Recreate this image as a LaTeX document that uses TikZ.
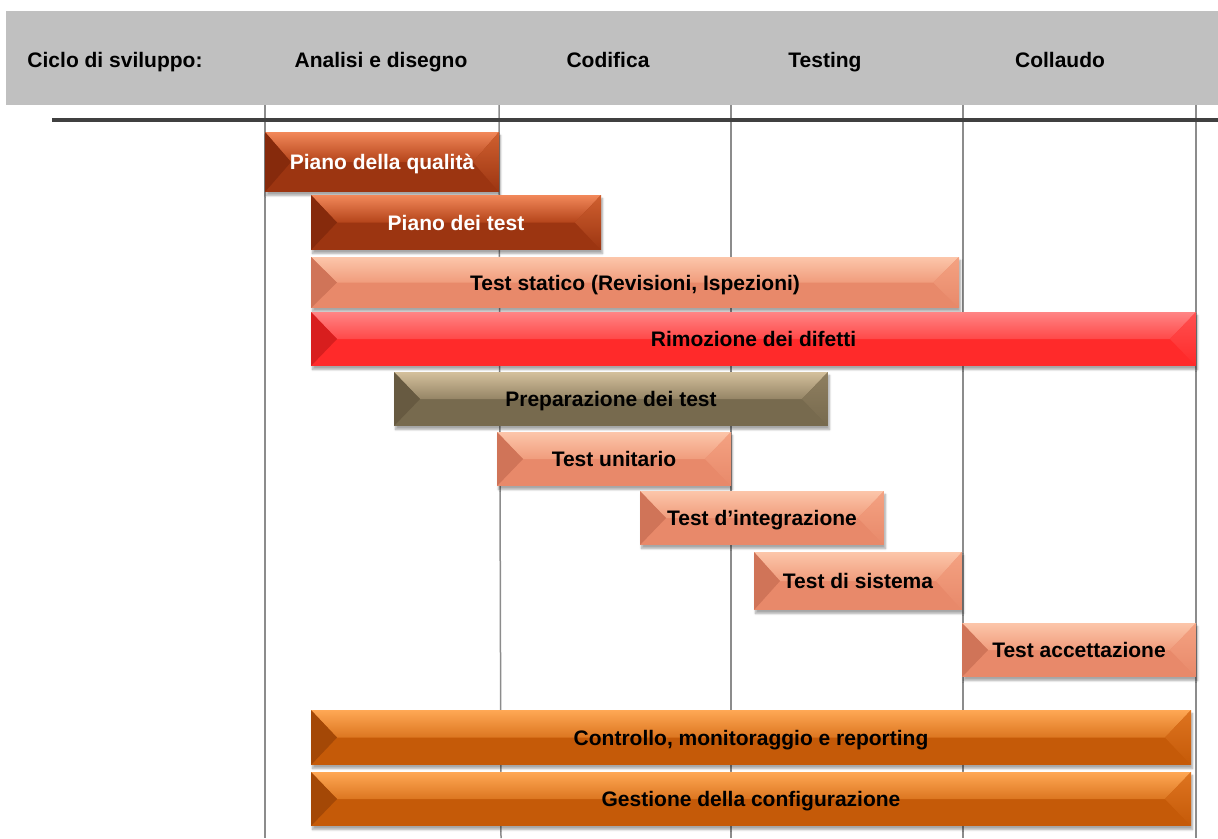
\documentclass[tikz,border=0pt]{standalone}
\usepackage{fontspec}
\setmainfont{Liberation Sans}
\usetikzlibrary{calc,shadows.blur}
\definecolor{hdrgray}{HTML}{C0C0C0}
\definecolor{gridgray}{HTML}{8C8C8C}
\definecolor{rulegray}{HTML}{404040}
% brown
\definecolor{brT}{HTML}{F2885A}\definecolor{brM}{HTML}{B4441A}\definecolor{brB}{HTML}{9C3511}\definecolor{brL}{HTML}{862A0C}\definecolor{brR}{HTML}{D06030}
% salmon
\definecolor{saT}{HTML}{FCC6AA}\definecolor{saM}{HTML}{F09C7C}\definecolor{saB}{HTML}{E8896A}\definecolor{saL}{HTML}{D07458}\definecolor{saR}{HTML}{F4A282}
% red
\definecolor{rdT}{HTML}{FF8585}\definecolor{rdM}{HTML}{FF4848}\definecolor{rdB}{HTML}{FF2A2A}\definecolor{rdL}{HTML}{D81E1E}\definecolor{rdR}{HTML}{FF5050}
% olive
\definecolor{olT}{HTML}{D4C09C}\definecolor{olM}{HTML}{958566}\definecolor{olB}{HTML}{776A4E}\definecolor{olL}{HTML}{675A41}\definecolor{olR}{HTML}{8F7F60}
% orange
\definecolor{orT}{HTML}{FFA855}\definecolor{orM}{HTML}{DC7620}\definecolor{orB}{HTML}{C55A08}\definecolor{orL}{HTML}{A44806}\definecolor{orR}{HTML}{DE7420}
\tikzset{
  bevel/.style n args={5}{fill=#3, path picture={
    \path (path picture bounding box.north west) coordinate (pa)
          (path picture bounding box.north east) coordinate (pb)
          (path picture bounding box.south east) coordinate (pc)
          (path picture bounding box.south west) coordinate (pd)
          (path picture bounding box.west) coordinate (pw)
          (path picture bounding box.east) coordinate (pe);
    \path ($(pw)+(26pt,0pt)$) coordinate (pwi) ($(pe)+(-26pt,0pt)$) coordinate (pei);
    \shade[top color=#1, bottom color=#2] (pa) -- (pb) -- (pei) -- (pwi) -- cycle;
    \fill[#4] (pa) -- (pwi) -- (pd) -- cycle;
    \shade[top color=#5, bottom color=#3] (pb) -- (pei) -- (pc) -- cycle;
  }},
  txt/.style={font=\fontsize{21}{25}\selectfont\bfseries, text height=15pt, text depth=0pt},
  barbox/.style={rectangle, inner sep=0pt, outer sep=0pt, draw=none, txt,
    blur shadow={shadow xshift=1.5pt, shadow yshift=-3.5pt, shadow blur steps=6, shadow opacity=35}},
  brownbar/.style={barbox, bevel={brT}{brM}{brB}{brL}{brR}, text=white},
  salmonbar/.style={barbox, bevel={saT}{saM}{saB}{saL}{saR}, text=black},
  redbar/.style={barbox, bevel={rdT}{rdM}{rdB}{rdL}{rdR}, text=black},
  olivebar/.style={barbox, bevel={olT}{olM}{olB}{olL}{olR}, text=black},
  orangebar/.style={barbox, bevel={orT}{orM}{orB}{orL}{orR}, text=black},
  hdr/.style={txt, text=black, inner sep=0pt},
  grid/.style={draw=gridgray, line width=1.5pt},
}
\newcommand\gbar[7]{%
  \node[#6, minimum width={(#4-#2)*1pt}, minimum height={(#5-#3)*1pt}]
    (#1) at ({(#2+#4)/2},{(#3+#5)/2}) {#7};}
\begin{document}
\begin{tikzpicture}[x=1pt,y=-1pt]
\useasboundingbox (0,0) rectangle (1218,838);
% header band
\fill[hdrgray] (6,11) rectangle (1218,105);
\node[hdr] (h0) at (115,60) {Ciclo di sviluppo:};
\node[hdr] (h1) at (381,60) {Analisi e disegno};
\node[hdr] (h2) at (608,60) {Codifica};
\node[hdr] (h3) at (825,60) {Testing};
\node[hdr] (h4) at (1060,60) {Collaudo};
% grid lines
\coordinate (g0t) at (265,105); \coordinate (g0b) at (265,838);
\coordinate (g1t) at (499,105); \coordinate (g1b) at (501,838);
\coordinate (g2t) at (731,105); \coordinate (g2b) at (731,838);
\coordinate (g3t) at (963,105); \coordinate (g3b) at (963,838);
\coordinate (g4t) at (1196,105); \coordinate (g4b) at (1196,838);
\foreach \i in {0,...,4} \draw[grid] (g\i t) -- (g\i b);
\coordinate (rl) at (52,120); \coordinate (rr) at (1218,120);
\draw[rulegray, line width=3.5pt] (rl) -- (rr);
% bars
\gbar{b1}{265}{132}{499}{192}{brownbar}{Piano della qualità}
\gbar{b2}{311}{195}{601}{250}{brownbar}{Piano dei test}
\gbar{b3}{311}{257}{959}{308}{salmonbar}{Test statico (Revisioni, Ispezioni)}
\gbar{b4}{311}{312}{1196}{366}{redbar}{Rimozione dei difetti}
\gbar{b5}{394}{372}{828}{426}{olivebar}{Preparazione dei test}
\gbar{b6}{497}{432}{731}{486}{salmonbar}{Test unitario}
\gbar{b7}{640}{491}{884}{545}{salmonbar}{Test d’integrazione}
\gbar{b8}{754}{552}{962}{610}{salmonbar}{Test di sistema}
\gbar{b9}{962}{623}{1196}{677}{salmonbar}{Test accettazione}
\gbar{b10}{311}{710}{1191}{765}{orangebar}{Controllo, monitoraggio e reporting}
\gbar{b11}{311}{772}{1191}{826}{orangebar}{Gestione della configurazione}
\end{tikzpicture}
\end{document}
